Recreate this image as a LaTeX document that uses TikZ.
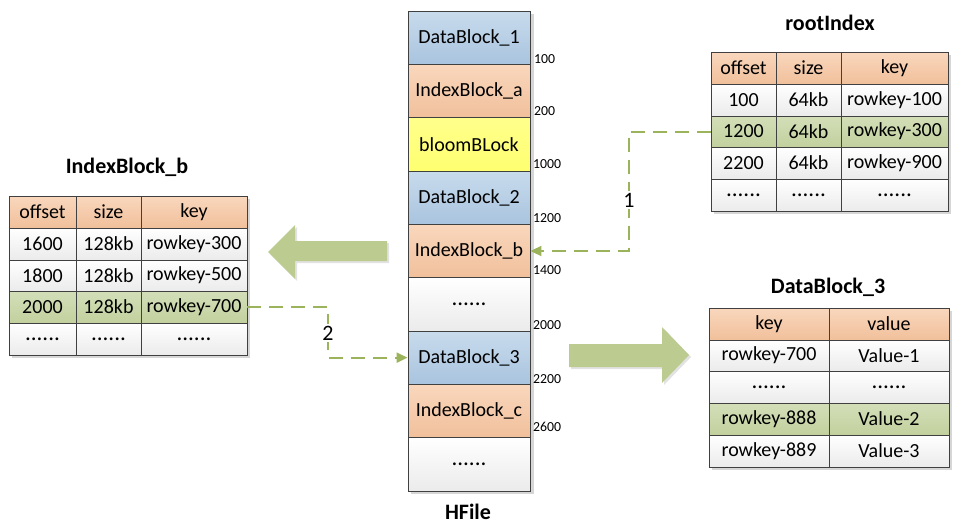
\documentclass[tikz,border=0pt]{standalone}
\usepackage{fontspec}
\setmainfont{Carlito}
\usetikzlibrary{arrows.meta}
\definecolor{bordc}{HTML}{404040}
\definecolor{orTop}{HTML}{F9D7BD}
\definecolor{orBot}{HTML}{F1C09B}
\definecolor{blTop}{HTML}{C8DBEC}
\definecolor{blBot}{HTML}{A9C4DF}
\definecolor{ylTop}{HTML}{FFFF8C}
\definecolor{ylBot}{HTML}{FFFF70}
\definecolor{wBot}{HTML}{EBEBEB}
\definecolor{gTop}{HTML}{D3DEB8}
\definecolor{gBot}{HTML}{C2D19E}
\definecolor{dashc}{HTML}{9BB35A}
\definecolor{bigarr}{HTML}{BCCB90}
\definecolor{shadc}{HTML}{D6D6D6}
\tikzset{
  tcell/.style={draw=bordc, line width=0.9pt, inner sep=0pt, anchor=center,
    font=\fontsize{20}{22}\selectfont, text=black},
  hdrcell/.style={tcell, top color=orTop, bottom color=orBot},
  whcell/.style={tcell, top color=white, bottom color=wBot},
  gncell/.style={tcell, top color=gTop, bottom color=gBot},
  blucell/.style={tcell, top color=blTop, bottom color=blBot},
  orncell/.style={tcell, top color=orTop, bottom color=orBot},
  yelcell/.style={tcell, top color=ylTop, bottom color=ylBot},
  empcell/.style={tcell, top color=white, bottom color=wBot},
  ttlnode/.style={font=\bfseries\fontsize{22}{24}\selectfont, inner sep=0pt},
  offlbl/.style={font=\fontsize{13.8}{15}\selectfont, anchor=west, inner sep=0pt},
  numlbl/.style={font=\fontsize{22}{24}\selectfont, fill=white, inner sep=1.5pt},
  dashln/.style={draw=dashc, line width=2pt, dash pattern=on 14pt off 8pt,
    -{Triangle[length=11pt,width=10pt,fill=dashc]}},
  shadfill/.style={fill=shadc}
}
\newcommand\mkcell[7]{\node[#2, minimum width={#5-#3}, minimum height={#6-#4}] (#1) at ({(#3+#5)/2},{(#4+#6)/2}) {#7};}
\newcommand\dts{{\fontsize{23}{24}\selectfont......}}
\begin{document}
\begin{tikzpicture}[x=1pt,y=-1pt]
\useasboundingbox (0,0) rectangle (961,530);
% ---------------- HFile ----------------
\fill[shadfill] (411,14) rectangle (534,494);
\mkcell{hb1}{blucell}{408}{11}{530}{64.33}{DataBlock\_1}
\mkcell{hb2}{orncell}{408}{64.33}{530}{117.67}{IndexBlock\_a}
\mkcell{hb3}{yelcell}{408}{117.67}{530}{171}{bloomBLock}
\mkcell{hb4}{blucell}{408}{171}{530}{224.33}{DataBlock\_2}
\mkcell{hb5}{orncell}{408}{224.33}{530}{277.67}{IndexBlock\_b}
\mkcell{hb6}{empcell}{408}{277.67}{530}{331}{\dts}
\mkcell{hb7}{blucell}{408}{331}{530}{384.33}{DataBlock\_3}
\mkcell{hb8}{orncell}{408}{384.33}{530}{437.67}{IndexBlock\_c}
\mkcell{hb9}{empcell}{408}{437.67}{530}{491}{\dts}
\node[ttlnode] (hfile) at (468,512) {HFile};
\node[offlbl] (o1) at (534,59) {100};
\node[offlbl] (o2) at (534,111) {200};
\node[offlbl] (o3) at (533,164) {1000};
\node[offlbl] (o4) at (533,218) {1200};
\node[offlbl] (o5) at (533,270) {1400};
\node[offlbl] (o6) at (533,325) {2000};
\node[offlbl] (o7) at (533,379) {2200};
\node[offlbl] (o8) at (533,427) {2600};
% ---------------- IndexBlock_b table ----------------
\node[ttlnode] (ibt) at (127,167) {IndexBlock\_b};
\fill[shadfill] (12,199) rectangle (250,358);
\mkcell{ib01}{hdrcell}{9}{196}{76}{228}{offset}
\mkcell{ib02}{hdrcell}{76}{196}{141}{228}{size}
\mkcell{ib03}{hdrcell}{141}{196}{247}{228}{key}
\mkcell{ib11}{whcell}{9}{228}{76}{260}{1600}
\mkcell{ib12}{whcell}{76}{228}{141}{260}{128kb}
\mkcell{ib13}{whcell}{141}{228}{247}{260}{rowkey-300}
\mkcell{ib21}{whcell}{9}{260}{76}{291}{1800}
\mkcell{ib22}{whcell}{76}{260}{141}{291}{128kb}
\mkcell{ib23}{whcell}{141}{260}{247}{291}{rowkey-500}
\mkcell{ib31}{gncell}{9}{291}{76}{323}{2000}
\mkcell{ib32}{gncell}{76}{291}{141}{323}{128kb}
\mkcell{ib33}{gncell}{141}{291}{247}{323}{rowkey-700}
\mkcell{ib41}{whcell}{9}{323}{76}{355}{\dts}
\mkcell{ib42}{whcell}{76}{323}{141}{355}{\dts}
\mkcell{ib43}{whcell}{141}{323}{247}{355}{\dts}
% ---------------- rootIndex table ----------------
\node[ttlnode] (rit) at (830,23) {rootIndex};
\fill[shadfill] (714,55) rectangle (951,214);
\mkcell{ri01}{hdrcell}{711}{52}{776}{84}{offset}
\mkcell{ri02}{hdrcell}{776}{52}{841}{84}{size}
\mkcell{ri03}{hdrcell}{841}{52}{948}{84}{key}
\mkcell{ri11}{whcell}{711}{84}{776}{116}{100}
\mkcell{ri12}{whcell}{776}{84}{841}{116}{64kb}
\mkcell{ri13}{whcell}{841}{84}{948}{116}{rowkey-100}
\mkcell{ri21}{gncell}{711}{116}{776}{147}{1200}
\mkcell{ri22}{gncell}{776}{116}{841}{147}{64kb}
\mkcell{ri23}{gncell}{841}{116}{948}{147}{rowkey-300}
\mkcell{ri31}{whcell}{711}{147}{776}{179}{2200}
\mkcell{ri32}{whcell}{776}{147}{841}{179}{64kb}
\mkcell{ri33}{whcell}{841}{147}{948}{179}{rowkey-900}
\mkcell{ri41}{whcell}{711}{179}{776}{211}{\dts}
\mkcell{ri42}{whcell}{776}{179}{841}{211}{\dts}
\mkcell{ri43}{whcell}{841}{179}{948}{211}{\dts}
% ---------------- DataBlock_3 table ----------------
\node[ttlnode] (dbt) at (828,287) {DataBlock\_3};
\fill[shadfill] (712,311) rectangle (952,470);
\mkcell{db01}{hdrcell}{709}{308}{829}{340}{key}
\mkcell{db02}{hdrcell}{829}{308}{949}{340}{value}
\mkcell{db11}{whcell}{709}{340}{829}{371}{rowkey-700}
\mkcell{db12}{whcell}{829}{340}{949}{371}{Value-1}
\mkcell{db21}{whcell}{709}{371}{829}{403}{\dts}
\mkcell{db22}{whcell}{829}{371}{949}{403}{\dts}
\mkcell{db31}{gncell}{709}{403}{829}{435}{rowkey-888}
\mkcell{db32}{gncell}{829}{403}{949}{435}{Value-2}
\mkcell{db41}{whcell}{709}{435}{829}{467}{rowkey-889}
\mkcell{db42}{whcell}{829}{435}{949}{467}{Value-3}
% ---------------- big arrows ----------------
\fill[shadc!70] (270,254) -- (297,227) -- (297,243) -- (389,243) -- (389,263) -- (297,263) -- (297,281) -- cycle;
\fill[bigarr] (268,252) -- (295,225) -- (295,241) -- (387,241) -- (387,261) -- (295,261) -- (295,279) -- cycle;
\fill[shadc!70] (571,346) -- (664,346) -- (664,329) -- (691,357) -- (664,385) -- (664,369) -- (571,369) -- cycle;
\fill[bigarr] (569,344) -- (662,344) -- (662,327) -- (689,355) -- (662,383) -- (662,367) -- (569,367) -- cycle;
% ---------------- dashed connectors ----------------
\draw[dashln] (ri21.west) -- ++(-82,0) |- (hb5.east);
\node[numlbl] (n1) at (629,200) {1};
\draw[dashln] (ib33.east) -- ++(81,0) |- (hb7.west);
\node[numlbl] (n2) at (328,333) {2};
\end{tikzpicture}
\end{document}
